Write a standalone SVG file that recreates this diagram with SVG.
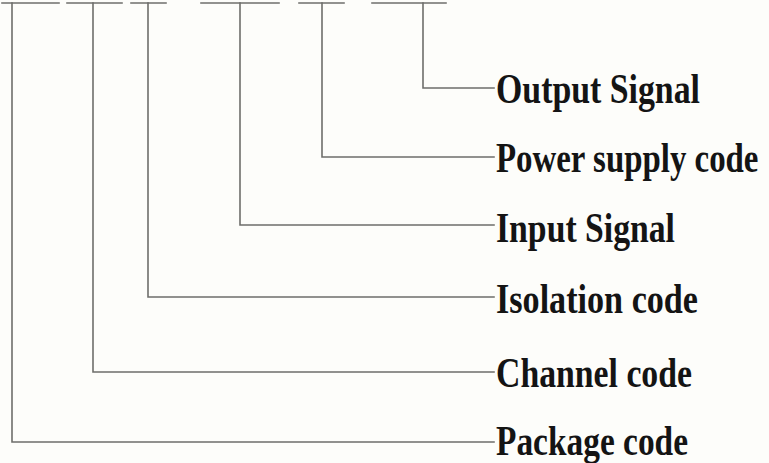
<svg xmlns="http://www.w3.org/2000/svg" width="769" height="463" viewBox="0 0 769 463">
<style>
.ln{fill:none;stroke:#6e6e6b;stroke-width:1.6;stroke-linecap:square}
.lb{font-family:"Liberation Serif","Times New Roman",serif;font-weight:bold;font-size:43px;fill:#141414}
</style>
<rect width="769" height="463" fill="#fdfdfa"/>
<g id="code-bars" class="ln">
<line x1="2" y1="3" x2="59" y2="3"/>
<line x1="67" y1="3" x2="122" y2="3"/>
<line x1="131" y1="3" x2="166" y2="3"/>
<line x1="201" y1="3" x2="279" y2="3"/>
<line x1="299" y1="3" x2="344" y2="3"/>
<line x1="372" y1="3" x2="446" y2="3"/>
</g>
<g id="connectors" class="ln">
<polyline points="423,3 423,88 494,88"/>
<polyline points="322,3 322,157 494,157"/>
<polyline points="240,3 240,225 494,225"/>
<polyline points="148,3 148,297 494,297"/>
<polyline points="93,3 93,372 494,372"/>
<polyline points="12,3 12,442 494,442"/>
</g>
<g id="output-signal"><text class="lb" x="496" y="103" textLength="204" lengthAdjust="spacingAndGlyphs">Output Signal</text></g>
<g id="power-supply-code"><text class="lb" transform="translate(496,172) scale(0.765,1)" x="0" y="0">Power supply code</text></g>
<g id="input-signal"><text class="lb" x="496" y="242" textLength="179" lengthAdjust="spacingAndGlyphs">Input Signal</text></g>
<g id="isolation-code"><text class="lb" x="496" y="313" textLength="202" lengthAdjust="spacingAndGlyphs">Isolation code</text></g>
<g id="channel-code"><text class="lb" x="496" y="387" textLength="196" lengthAdjust="spacingAndGlyphs">Channel code</text></g>
<g id="package-code"><text class="lb" x="496" y="455" textLength="192" lengthAdjust="spacingAndGlyphs">Package code</text></g>
</svg>
